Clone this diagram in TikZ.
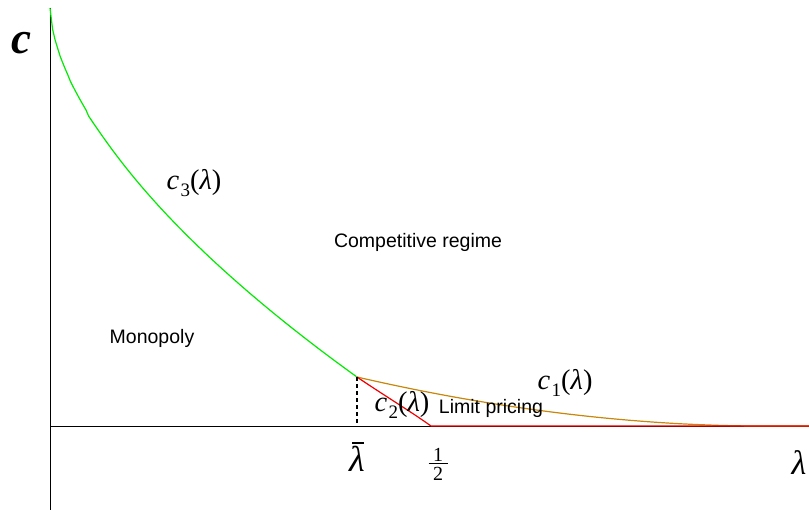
\documentclass[tikz,border=0pt]{standalone}
\usepackage{fontspec}
\setmainfont{Liberation Serif}
\setsansfont{Liberation Sans}
\definecolor{grn}{RGB}{0,235,0}
\definecolor{brn}{RGB}{200,135,10}
\definecolor{rd}{RGB}{240,0,0}
\newcommand\cfun[1]{\textit{c}\kern1.5pt\raisebox{-0.25em}{\fontsize{19}{19}\selectfont #1}(\textit{λ})}
\tikzset{
  axis/.style={black, line width=0.8pt},
  curve/.style={line width=1.2pt},
  lbl/.style={inner sep=0pt, font=\fontsize{28.5}{30}\selectfont},
  region/.style={inner sep=0pt, font=\sffamily\fontsize{19.5}{22}\selectfont},
  digit/.style={inner sep=0pt, font=\fontsize{20}{20}\selectfont},
}
\begin{document}
\begin{tikzpicture}[x=1pt,y=-1pt]
\useasboundingbox (0,0) rectangle (809,512);
% axes
\coordinate (ytop) at (50,8);
\coordinate (ybot) at (50,510);
\coordinate (xl) at (50,426);
\coordinate (xr) at (809,426);
\draw[axis] (ytop) -- (ybot);
\draw[axis] (xl) -- (xr);
% key points
\coordinate (lb) at (357,377);
\coordinate (lbax) at (357,426);
\coordinate (half) at (431,426);
% c3 green
\draw[curve, grn] plot[domain=0:1, samples=120, variable=\t] ({50+307*\t},{8+369*(\t)^0.6});
% c1 brown
\draw[curve, brn] plot[domain=0:1, samples=80, variable=\t] ({357+403*\t},{426-49*(1-\t)^1.9}) -- (xr);
% c2 red
\draw[curve, rd] (lb) .. controls (385,396) and (410,411) .. (half) -- (xr);
% dashed
\draw[black, line width=1.3pt, dashed, dash pattern=on 4pt off 3pt] (lb) -- (lbax);
% labels
\node[inner sep=0pt, font=\bfseries\itshape\fontsize{45}{46}\selectfont] (cl) at (21,43) {c};
\node[lbl] (c3) at (194,183) {\cfun{3}};
\node[lbl] (c1) at (565,383) {\cfun{1}};
\node[lbl] (c2) at (402,405) {\cfun{2}};
\node[region] (comp) at (418,242) {Competitive regime};
\node[region] (mono) at (152,338) {Monopoly};
\node[region] (lp) at (491,408) {Limit pricing};
\node[inner sep=0pt, font=\fontsize{36}{38}\selectfont] (lbar) at (357,457)
  {\rlap{\kern3pt\rule[28pt]{12pt}{1.6pt}}\textit{λ}};
\node[inner sep=0pt, font=\fontsize{34}{36}\selectfont] (lam) at (799,463) {\textit{λ}};
% one half
\node[digit] (hnum) at (438,455) {1};
\node[digit] (hden) at (438,474) {2};
\draw[black, line width=0.8pt] ([xshift=-9.5pt,yshift=-2pt]hnum.south) -- ([xshift=9.5pt,yshift=-2pt]hnum.south);
\end{tikzpicture}
\end{document}
